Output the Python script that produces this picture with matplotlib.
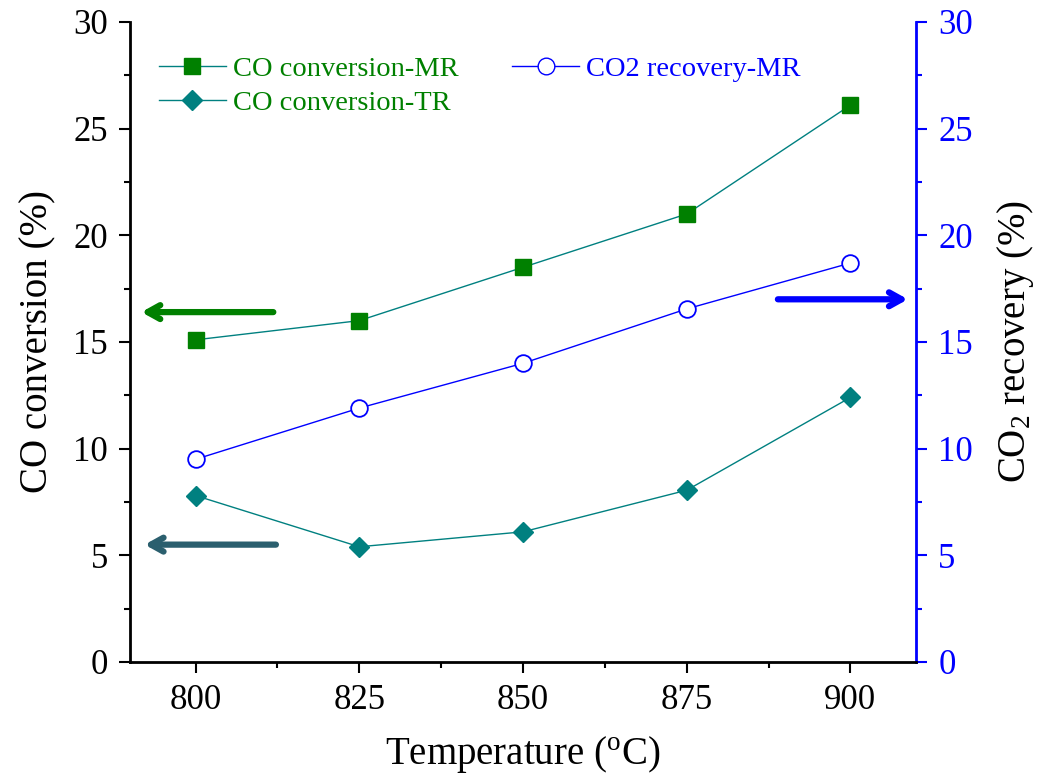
import matplotlib.pyplot as plt
from matplotlib.ticker import MultipleLocator
from matplotlib.lines import Line2D

plt.rcParams["font.family"] = ["Liberation Serif", "DejaVu Serif"]
plt.rcParams["mathtext.fontset"] = "custom"
plt.rcParams["mathtext.rm"] = "Liberation Serif"

temperature = [800, 825, 850, 875, 900]
co_conv_mr = [15.1, 16.0, 18.5, 21.0, 26.1]
co_conv_tr = [7.8, 5.4, 6.1, 8.05, 12.4]
co2_recovery_mr = [9.5, 11.9, 14.0, 16.55, 18.7]

GREEN = "#008000"
TEAL = "#008080"
BLUE = "#0000FF"

fig = plt.figure(figsize=(10.42, 7.82), dpi=100)
ax = fig.add_axes([0.1248, 0.1535, 0.7542, 0.8184])
ax2 = ax.twinx()

ax.plot(temperature, co_conv_mr, color=TEAL, lw=1, marker="s", ms=11,
        mfc=GREEN, mec=GREEN, label="CO conversion-MR")
ax.plot(temperature, co_conv_tr, color=TEAL, lw=1, marker="D", ms=10,
        mfc=TEAL, mec=TEAL, label="CO conversion-TR")
ax2.plot(temperature, co2_recovery_mr, color=BLUE, lw=1, marker="o", ms=12,
         mfc="white", mec=BLUE, mew=1.3, label="CO2 recovery-MR")

ax.set_xlim(790, 910)
ax.set_ylim(0, 30)
ax2.set_ylim(0, 30)
ax.set_xticks(temperature)
ax.xaxis.set_minor_locator(MultipleLocator(12.5))
for a in (ax, ax2):
    a.yaxis.set_major_locator(MultipleLocator(5))
    a.yaxis.set_minor_locator(MultipleLocator(2.5))

ax.tick_params(axis="both", which="major", direction="out", length=8, width=1.5,
               labelsize=25, pad=8)
ax.tick_params(axis="both", which="minor", direction="out", length=4, width=1.5)
ax2.tick_params(axis="y", which="major", direction="out", length=8, width=1.5,
                labelsize=25, colors=BLUE, pad=8)
ax2.tick_params(axis="y", which="minor", direction="out", length=4, width=1.5,
                colors=BLUE)

for a in (ax, ax2):
    a.spines["top"].set_visible(False)
    for s in a.spines.values():
        s.set_linewidth(2)
ax.spines["right"].set_visible(False)
ax2.spines["left"].set_visible(False)
ax2.spines["bottom"].set_visible(False)
ax2.spines["right"].set_color(BLUE)

ax.set_xlabel("Temperature ($\\mathregular{^oC}$)", fontsize=28, labelpad=12)
ax.set_ylabel("CO conversion (%)", fontsize=28, labelpad=12)
ax2.set_ylabel("CO$\\mathregular{_2}$ recovery (%)", fontsize=28, labelpad=16)

# arrows pointing to the matching axes
ax.annotate("", xy=(791.3, 16.4), xytext=(812.3, 16.4),
            arrowprops=dict(arrowstyle="->,head_length=0.9,head_width=0.5",
                            color=GREEN, lw=4.5))
ax.annotate("", xy=(791.8, 5.5), xytext=(812.7, 5.5),
            arrowprops=dict(arrowstyle="->,head_length=0.9,head_width=0.5",
                            color="#2B5F6E", lw=4.5))
ax.annotate("", xy=(909.2, 17.0), xytext=(888.5, 17.0),
            arrowprops=dict(arrowstyle="->,head_length=0.9,head_width=0.5",
                            color=BLUE, lw=4.5))

handles = [
    Line2D([], [], color=TEAL, lw=1, marker="s", ms=11, mfc=GREEN, mec=GREEN),
    Line2D([], [], color=TEAL, lw=1, marker="D", ms=10, mfc=TEAL, mec=TEAL),
    Line2D([], [], color=BLUE, lw=1, marker="o", ms=12, mfc="white", mec=BLUE),
]
labels = ["CO conversion-MR", "CO conversion-TR", "CO2 recovery-MR"]
leg = ax.legend(handles, labels, ncol=2, loc="upper left",
                bbox_to_anchor=(0.022, 0.965), frameon=False, fontsize=20.5,
                handlelength=2.35, handletextpad=0.25, columnspacing=1.9,
                labelspacing=0.3, borderaxespad=0)
for txt, c in zip(leg.get_texts(), [GREEN, GREEN, BLUE]):
    txt.set_color(c)
ax.set_zorder(ax2.get_zorder() + 1)
ax.patch.set_visible(False)

fig.savefig("out.png", dpi=100)
